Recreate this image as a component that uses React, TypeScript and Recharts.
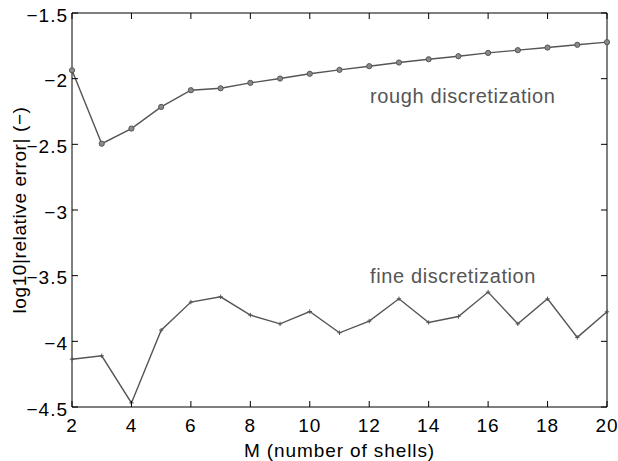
import React from "react";
import {
  LineChart,
  Line,
  XAxis,
  YAxis,
  ReferenceDot,
} from "recharts";

const M_VALUES = [2, 3, 4, 5, 6, 7, 8, 9, 10, 11, 12, 13, 14, 15, 16, 17, 18, 19, 20];
const ROUGH = [
  -1.936, -2.495, -2.38, -2.215, -2.088, -2.073, -2.032, -1.999, -1.963, -1.933,
  -1.905, -1.877, -1.852, -1.829, -1.804, -1.783, -1.763, -1.742, -1.722,
];
const FINE = [
  -4.136, -4.11, -4.469, -3.915, -3.701, -3.661, -3.8, -3.867, -3.773, -3.935,
  -3.846, -3.676, -3.857, -3.811, -3.625, -3.867, -3.676, -3.97, -3.775,
];
const X_TICKS = [2, 4, 6, 8, 10, 12, 14, 16, 18, 20];
const Y_TICKS = [-4.5, -4, -3.5, -3, -2.5, -2, -1.5];

const LINE_COLOR = "#555555";
const FONT = "'Liberation Sans', Arial, Helvetica, sans-serif";

const data = M_VALUES.map((m, i) => ({ m, rough: ROUGH[i], fine: FINE[i] }));

const fmt = (v: number) => String(v).replace("-", "\u2212");

// inward ticks, matlab style
function BottomTick({ x, y, payload }: any) {
  return (
    <g>
      <line x1={x} x2={x} y1={y} y2={y - 6} stroke="#000" />
      <text x={x} y={y + 25} textAnchor="middle" fontSize={19} letterSpacing={1} fill="#000" fontFamily={FONT}>
        {payload.value}
      </text>
    </g>
  );
}

function LeftTick({ x, y, payload }: any) {
  return (
    <g>
      <line x1={x} x2={x + 6} y1={y} y2={y} stroke="#000" />
      <text x={x - 4} y={y} dy="0.45em" textAnchor="end" fontSize={19} letterSpacing={1} fill="#000" fontFamily={FONT}>
        {fmt(payload.value)}
      </text>
    </g>
  );
}

function TopTick({ x, y }: any) {
  return <line x1={x} x2={x} y1={y} y2={y + 6} stroke="#000" />;
}

function RightTick({ x, y }: any) {
  return <line x1={x} x2={x - 6} y1={y} y2={y} stroke="#000" />;
}

function CircleDot({ cx, cy }: any) {
  if (cx == null || cy == null) return null;
  return <circle cx={cx} cy={cy} r={2.6} fill="#8a8a8a" stroke={LINE_COLOR} strokeWidth={1} />;
}

function PlusDot({ cx, cy }: any) {
  if (cx == null || cy == null) return null;
  return (
    <path
      d={`M${cx - 2.2},${cy}H${cx + 2.2}M${cx},${cy - 2.2}V${cy + 2.2}`}
      stroke={LINE_COLOR}
      strokeWidth={1}
    />
  );
}

function Annotation({ text }: { text: string }) {
  return (props: any) => {
    const { viewBox } = props;
    return (
      <text
        x={viewBox.x}
        y={viewBox.y}
        fontSize={20}
        letterSpacing={0.6}
        fill="#555"
        fontFamily={FONT}
      >
        {text}
      </text>
    );
  };
}

export default function App() {
  return (
    <div style={{ position: "absolute", left: 0, top: 0, background: "#fff" }}>
      <LineChart width={618} height={461} data={data} margin={{ top: 12, right: 10, bottom: 0, left: 0 }}>
        <XAxis
          dataKey="m"
          type="number"
          domain={[2, 20]}
          ticks={X_TICKS}
          tickSize={0}
          tickMargin={0}
          tickLine={false}
          tick={<BottomTick />}
          height={54}
          axisLine={{ stroke: "#000" }}
          label={{
            value: "M (number of shells)",
            position: "insideBottom",
            offset: 4,
            fontSize: 19,
            letterSpacing: 0.9,
            fill: "#000",
            fontFamily: FONT,
          }}
        />
        <XAxis
          xAxisId="top"
          dataKey="m"
          type="number"
          orientation="top"
          domain={[2, 20]}
          ticks={X_TICKS}
          tickSize={0}
          tickMargin={0}
          tickLine={false}
          tick={<TopTick />}
          height={1}
          axisLine={{ stroke: "#000" }}
        />
        <YAxis
          type="number"
          domain={[-4.5, -1.5]}
          ticks={Y_TICKS}
          tickSize={0}
          tickMargin={0}
          tickLine={false}
          tick={<LeftTick />}
          width={72}
          axisLine={{ stroke: "#000" }}
          label={{
            value: "log10|relative error| (\u2212)",
            angle: -90,
            position: "insideLeft",
            offset: 19,
            fontSize: 19,
            letterSpacing: 0.6,
            fill: "#000",
            fontFamily: FONT,
            style: { textAnchor: "middle" },
          }}
        />
        <YAxis
          yAxisId="right"
          type="number"
          orientation="right"
          domain={[-4.5, -1.5]}
          ticks={Y_TICKS}
          tickSize={0}
          tickMargin={0}
          tickLine={false}
          tick={<RightTick />}
          width={1}
          axisLine={{ stroke: "#000" }}
        />
        {/* invisible copy so the top/right frame axes get drawn */}
        <Line
          xAxisId="top"
          yAxisId="right"
          dataKey="rough"
          stroke="none"
          dot={false}
          activeDot={false}
          legendType="none"
          isAnimationActive={false}
        />
        <Line
          dataKey="rough"
          stroke={LINE_COLOR}
          strokeWidth={1.4}
          dot={<CircleDot />}
          activeDot={false}
          isAnimationActive={false}
        />
        <Line
          dataKey="fine"
          stroke={LINE_COLOR}
          strokeWidth={1.4}
          dot={<PlusDot />}
          activeDot={false}
          isAnimationActive={false}
        />
        <ReferenceDot x={12.03} y={-2.184} r={0} label={Annotation({ text: "rough discretization" })} />
        <ReferenceDot x={12.03} y={-3.556} r={0} label={Annotation({ text: "fine discretization" })} />
      </LineChart>
    </div>
  );
}
